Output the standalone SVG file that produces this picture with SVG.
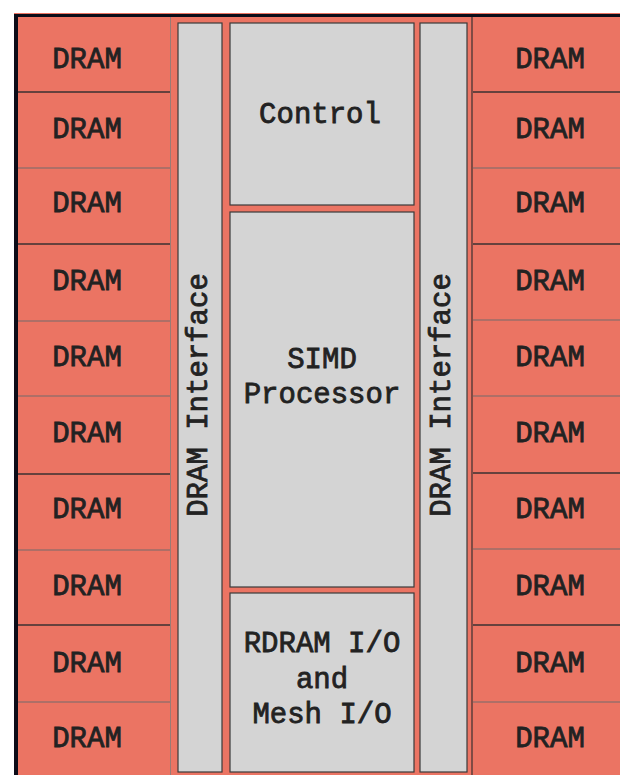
<svg xmlns="http://www.w3.org/2000/svg" width="620" height="775" viewBox="0 0 620 775">
  <style>
    .lbl { font-family: "Liberation Mono", "Courier New", monospace; font-size: 29px; font-weight: normal; fill: #222222; stroke: #222222; stroke-width: 0.8; text-anchor: middle; }
    .box { fill: #d4d4d4; stroke: #3a3a3a; stroke-width: 1.2; }
    .sepDark { stroke: #3a3030; stroke-width: 1.5; }
    .sepLight { stroke: #9a6e68; stroke-width: 1.5; }
  </style>

  <rect x="0" y="0" width="620" height="775" fill="#ffffff"/>
  <!-- chip background -->
  <rect x="14" y="13" width="606" height="762" fill="#eb7463"/>
  <!-- outer border -->
  <line x1="14" y1="15.5" x2="620" y2="15.5" stroke="#0c0c18" stroke-width="3"/>
  <line x1="16" y1="14" x2="16" y2="775" stroke="#0c0c18" stroke-width="4"/>

  <!-- DRAM column edges -->
  <line x1="170.5" y1="17" x2="170.5" y2="775" stroke="#9a7a74" stroke-width="1"/>
  <line x1="472" y1="17" x2="472" y2="775" stroke="#3a3030" stroke-width="1.2"/>

  <g id="dram-left">
    <line class="sepDark" x1="18" y1="92" x2="170" y2="92"/>
    <line class="sepLight" x1="18" y1="168" x2="170" y2="168"/>
    <line class="sepDark" x1="18" y1="244" x2="170" y2="244"/>
    <line class="sepLight" x1="18" y1="321" x2="170" y2="321"/>
    <line class="sepLight" x1="18" y1="396" x2="170" y2="396"/>
    <line class="sepDark" x1="18" y1="474" x2="170" y2="474"/>
    <line class="sepLight" x1="18" y1="550" x2="170" y2="550"/>
    <line class="sepDark" x1="18" y1="625" x2="170" y2="625"/>
    <line class="sepLight" x1="18" y1="702" x2="170" y2="702"/>
    <text class="lbl" x="87" y="68">DRAM</text>
    <text class="lbl" x="87" y="138">DRAM</text>
    <text class="lbl" x="87" y="212">DRAM</text>
    <text class="lbl" x="87" y="290">DRAM</text>
    <text class="lbl" x="87" y="366">DRAM</text>
    <text class="lbl" x="87" y="442">DRAM</text>
    <text class="lbl" x="87" y="518">DRAM</text>
    <text class="lbl" x="87" y="595">DRAM</text>
    <text class="lbl" x="87" y="672">DRAM</text>
    <text class="lbl" x="87" y="747">DRAM</text>
  </g>

  <g id="dram-right">
    <line class="sepDark" x1="473" y1="92" x2="620" y2="92"/>
    <line class="sepLight" x1="473" y1="168" x2="620" y2="168"/>
    <line class="sepDark" x1="473" y1="244" x2="620" y2="244"/>
    <line class="sepLight" x1="473" y1="320" x2="620" y2="320"/>
    <line class="sepLight" x1="473" y1="396" x2="620" y2="396"/>
    <line class="sepDark" x1="473" y1="473" x2="620" y2="473"/>
    <line class="sepLight" x1="473" y1="549" x2="620" y2="549"/>
    <line class="sepDark" x1="473" y1="625" x2="620" y2="625"/>
    <line class="sepLight" x1="473" y1="702" x2="620" y2="702"/>
    <text class="lbl" x="550" y="68">DRAM</text>
    <text class="lbl" x="550" y="138">DRAM</text>
    <text class="lbl" x="550" y="212">DRAM</text>
    <text class="lbl" x="550" y="290">DRAM</text>
    <text class="lbl" x="550" y="366">DRAM</text>
    <text class="lbl" x="550" y="442">DRAM</text>
    <text class="lbl" x="550" y="518">DRAM</text>
    <text class="lbl" x="550" y="595">DRAM</text>
    <text class="lbl" x="550" y="672">DRAM</text>
    <text class="lbl" x="550" y="747">DRAM</text>
  </g>

  <g id="dram-interface-left">
    <rect class="box" x="178" y="23" width="44" height="749"/>
    <text class="lbl" transform="translate(207 395) rotate(-90)">DRAM Interface</text>
  </g>

  <g id="dram-interface-right">
    <rect class="box" x="420" y="23" width="47" height="749"/>
    <text class="lbl" transform="translate(450 395) rotate(-90)">DRAM Interface</text>
  </g>

  <g id="control">
    <rect class="box" x="230" y="23" width="184" height="182"/>
    <text class="lbl" x="320" y="123">Control</text>
  </g>

  <g id="simd-processor">
    <rect class="box" x="230" y="212" width="184" height="375"/>
    <text class="lbl" x="322" y="368">SIMD</text>
    <text class="lbl" x="322" y="403">Processor</text>
  </g>

  <g id="io">
    <rect class="box" x="230" y="593" width="184" height="179"/>
    <text class="lbl" x="322" y="652">RDRAM I/O</text>
    <text class="lbl" x="322" y="688">and</text>
    <text class="lbl" x="322" y="723">Mesh I/O</text>
  </g>

  <g id="connectors"/>
</svg>
